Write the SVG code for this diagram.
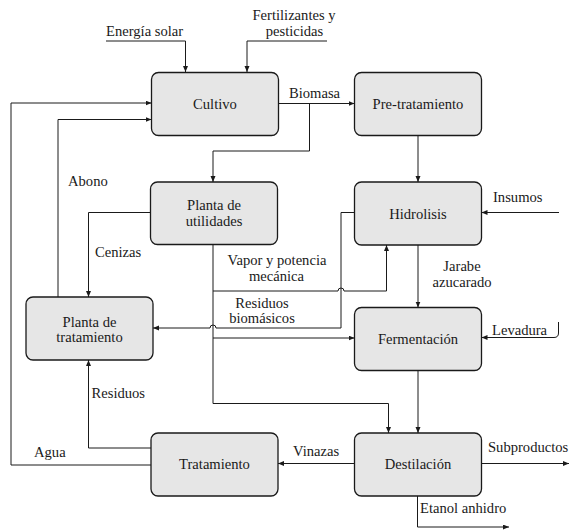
<svg xmlns="http://www.w3.org/2000/svg" width="571" height="532" viewBox="0 0 571 532">
<style>
.box{fill:#e6e6e6;stroke:#1a1a1a;stroke-width:1.3}
.ln{fill:none;stroke:#1a1a1a;stroke-width:1}
text{font-family:"Liberation Serif","Times New Roman",serif;font-size:14.6px;fill:#1a1a1a}
.c{text-anchor:middle}
</style>
<defs>
<marker id="ah" markerWidth="7" markerHeight="6" refX="6" refY="2.5" orient="auto" markerUnits="userSpaceOnUse">
<path d="M0,0 L6,2.5 L0,5 z" fill="#1a1a1a"/>
</marker>
</defs>
<rect width="571" height="532" fill="#ffffff"/>
<g id="connectors">
<path class="ln" d="M106,41 H185.5 V72" marker-end="url(#ah)"/>
<path class="ln" d="M327,41 H247 V72" marker-end="url(#ah)"/>
<path class="ln" d="M151,465 H11 V103 H151.5" marker-end="url(#ah)"/>
<path class="ln" d="M58,297 V119.5 H151.5" marker-end="url(#ah)"/>
<path class="ln" d="M279,103.5 H354.5" marker-end="url(#ah)"/>
<path class="ln" d="M309.5,103.5 V151 H213 V182" marker-end="url(#ah)"/>
<path class="ln" d="M418,135.5 V182" marker-end="url(#ah)"/>
<path class="ln" d="M559,212.5 H481.5" marker-end="url(#ah)"/>
<path class="ln" d="M354.5,212.5 H341 V328 H216 a3,3 0 0 0 -6,0 H153" marker-end="url(#ah)"/>
<path class="ln" d="M150.5,212.5 H88.5 V297" marker-end="url(#ah)"/>
<path class="ln" d="M213,244.5 V403.5 H388.5 V433" marker-end="url(#ah)"/>
<path class="ln" d="M213,291 H338 a3,3 0 0 1 6,0 H386.5 V245" marker-end="url(#ah)"/>
<path class="ln" d="M213,338 H354.5" marker-end="url(#ah)"/>
<path class="ln" d="M418,245 V307.5" marker-end="url(#ah)"/>
<path class="ln" d="M558.5,322 V333 Q558.5,337.5 554,337.5 H481.5" marker-end="url(#ah)"/>
<path class="ln" d="M418,370.5 V433" marker-end="url(#ah)"/>
<path class="ln" d="M354.5,463.5 H278" marker-end="url(#ah)"/>
<path class="ln" d="M481.5,463.5 H569" marker-end="url(#ah)"/>
<path class="ln" d="M417.5,496 V527 H509" marker-end="url(#ah)"/>
<path class="ln" d="M151,448 H88.5 V360" marker-end="url(#ah)"/>
</g>
<g id="labels">
<text x="106" y="36">Energía solar</text>
<text class="c" x="294" y="20">Fertilizantes y</text>
<text class="c" x="294.5" y="36">pesticidas</text>
<text x="289" y="97.5">Biomasa</text>
<text x="68" y="186">Abono</text>
<text x="95" y="257">Cenizas</text>
<text class="c" x="277" y="265">Vapor y potencia</text>
<text class="c" x="276.5" y="281">mecánica</text>
<text class="c" x="262" y="308">Residuos</text>
<text class="c" x="262" y="323">biomásicos</text>
<text x="493" y="202">Insumos</text>
<text class="c" x="462" y="270.5">Jarabe</text>
<text class="c" x="462" y="286.5">azucarado</text>
<text x="492" y="335">Levadura</text>
<text x="91.5" y="398">Residuos</text>
<text x="34" y="456.5">Agua</text>
<text x="293" y="456">Vinazas</text>
<text x="488" y="451.5">Subproductos</text>
<text x="420" y="513">Etanol anhidro</text>
</g>
<g id="cultivo"><rect class="box" x="151.5" y="72.5" width="127" height="63" rx="7"/><text class="c" x="215" y="109">Cultivo</text></g>
<g id="pretratamiento"><rect class="box" x="354.5" y="72.5" width="127" height="63" rx="7"/><text class="c" x="418" y="109">Pre-tratamiento</text></g>
<g id="planta-utilidades"><rect class="box" x="150.5" y="182" width="127" height="62.5" rx="7"/><text class="c" x="214" y="210">Planta de</text><text class="c" x="214" y="226">utilidades</text></g>
<g id="hidrolisis"><rect class="box" x="354.5" y="182" width="127" height="63" rx="7"/><text class="c" x="418" y="218.5">Hidrolisis</text></g>
<g id="planta-tratamiento"><rect class="box" x="26" y="297" width="127" height="63" rx="7"/><text class="c" x="89.5" y="326.5">Planta de</text><text class="c" x="89.5" y="342">tratamiento</text></g>
<g id="fermentacion"><rect class="box" x="354.5" y="307.5" width="127" height="63" rx="7"/><text class="c" x="418" y="344">Fermentación</text></g>
<g id="tratamiento"><rect class="box" x="151" y="433" width="127" height="63" rx="7"/><text class="c" x="214.5" y="469">Tratamiento</text></g>
<g id="destilacion"><rect class="box" x="354.5" y="433" width="127" height="63" rx="7"/><text class="c" x="418" y="469">Destilación</text></g>
</svg>
